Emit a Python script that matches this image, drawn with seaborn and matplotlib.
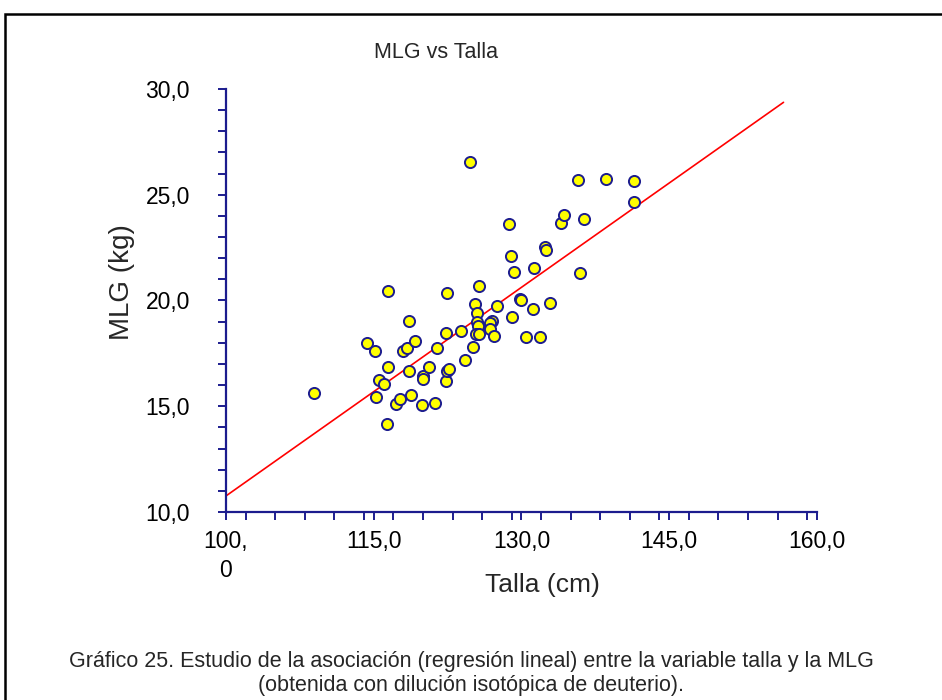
import numpy as np
import pandas as pd
import seaborn as sns
import matplotlib.pyplot as plt
from matplotlib.patches import Rectangle
from matplotlib.ticker import MultipleLocator, FixedLocator

# talla (cm) and MLG (kg)
talla = [108.9, 114.3, 115.1, 115.2, 115.5, 116.0, 116.4, 116.4, 116.3, 117.3,
         117.7, 118.0, 118.4, 118.6, 118.6, 118.8, 119.2, 119.9, 120.0, 120.0,
         120.6, 121.2, 121.4, 122.3, 122.4, 122.3, 122.4, 122.6, 123.9, 124.3,
         124.8, 125.1, 125.3, 125.5, 125.5, 125.6, 125.4, 125.7, 125.7, 127.0,
         126.8, 126.8, 127.2, 127.5, 128.7, 128.9, 129.0, 129.2, 129.8, 129.9,
         130.5, 131.2, 131.3, 131.9, 132.4, 132.5, 132.9, 134.0, 134.3, 135.7,
         135.9, 136.3, 138.6, 141.4, 141.4]
mlg = [15.63, 17.98, 17.63, 15.45, 16.23, 16.07, 16.87, 20.45, 14.17, 15.12,
       15.33, 17.60, 17.75, 19.03, 16.68, 15.52, 18.09, 15.07, 16.43, 16.30,
       16.87, 15.17, 17.77, 18.45, 20.35, 16.19, 16.67, 16.76, 18.54, 17.19,
       26.55, 17.80, 19.82, 19.39, 18.98, 18.81, 18.42, 18.40, 20.67, 19.04,
       18.94, 18.65, 18.34, 19.75, 23.62, 22.10, 19.23, 21.33, 20.07, 20.01,
       18.28, 19.60, 21.54, 18.26, 22.54, 22.40, 19.87, 23.65, 24.06, 25.68,
       21.31, 23.85, 25.73, 25.65, 24.67]

# regression line end points
line_x = [100.0, 156.6]
line_y = [10.76, 29.37]

x_ticks = [100, 115, 130, 145, 160]
x_labels = ['100,\n0', '115,0', '130,0', '145,0', '160,0']
y_ticks = [10, 15, 20, 25, 30]
y_labels = ['10,0', '15,0', '20,0', '25,0', '30,0']

df = pd.DataFrame({'talla': talla, 'mlg': mlg})
fit = pd.DataFrame({'x': line_x, 'y': line_y})

sns.set_theme()
sns.set_style("white")
plt.rcParams['font.family'] = ['Liberation Sans', 'DejaVu Sans']

navy = '#1c1c8e'

fig = plt.figure(figsize=(9.42, 7.0), dpi=100)
ax = fig.add_axes([226/942, 1 - 512/700, (817-226)/942, (512-89)/700])

sns.lineplot(data=fit, x='x', y='y', color='red', linewidth=1.2, ax=ax, zorder=2)
sns.scatterplot(data=df, x='talla', y='mlg', color='#ffff00', edgecolor=navy,
                s=64, linewidth=1.4, ax=ax, zorder=3, clip_on=False)

ax.set_xlim(100, 160)
ax.set_ylim(10, 30)
ax.xaxis.set_major_locator(FixedLocator(x_ticks))
ax.set_xticklabels(x_labels)
ax.yaxis.set_major_locator(FixedLocator(y_ticks))
ax.set_yticklabels(y_labels)
ax.xaxis.set_minor_locator(MultipleLocator(3))
ax.yaxis.set_minor_locator(MultipleLocator(1))

for s in ['top', 'right']:
    ax.spines[s].set_visible(False)
for s in ['left', 'bottom']:
    ax.spines[s].set_color(navy)
    ax.spines[s].set_linewidth(1.6)

ax.tick_params(which='both', direction='out', length=6, width=1.4, color=navy,
               labelsize=16.5, labelcolor='black')
ax.tick_params(axis='both', which='both', bottom=True, left=True)
ax.tick_params(axis='y', pad=20)
ax.tick_params(axis='x', pad=7)
for lab in ax.get_xticklabels():
    lab.set_verticalalignment('top')
    lab.set_linespacing(1.35)

ax.set_xlabel('Talla (cm)', fontsize=19)
ax.set_ylabel('MLG (kg)', fontsize=20)
ax.xaxis.set_label_coords((542-226)/591, -(585-512)/423)
ax.yaxis.set_label_coords(-(226-122)/591, (512-282)/423)
ax.xaxis.label.set_verticalalignment('center')
ax.yaxis.label.set_verticalalignment('center')

fig.text(436/942, 1 - 52/700, 'MLG vs Talla', ha='center', va='center',
         fontsize=15.5, family=['Liberation Sans Narrow', 'Liberation Sans'])
fig.text(471/942, 1 - 661/700,
         'Gráfico 25. Estudio de la asociación (regresión lineal) entre la variable talla y la MLG',
         ha='center', va='center', fontsize=15.5,
         family=['Liberation Sans Narrow', 'Liberation Sans'])
fig.text(471/942, 1 - 685/700,
         '(obtenida con dilución isotópica de deuterio).',
         ha='center', va='center', fontsize=15.5,
         family=['Liberation Sans Narrow', 'Liberation Sans'])

# outer frame
fig.patches.append(Rectangle((5/942, -0.05), 1.1, 1 - 14/700 + 0.05,
                             transform=fig.transFigure, fill=False,
                             edgecolor='black', linewidth=1.8))

fig.savefig('out.png', dpi=100)
